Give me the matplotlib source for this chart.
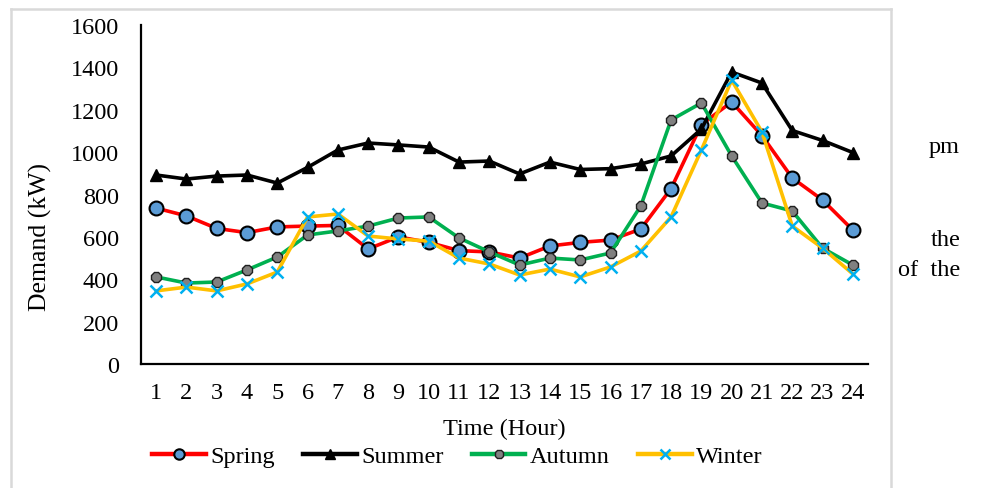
import matplotlib
matplotlib.use("Agg")
import matplotlib.pyplot as plt
from matplotlib.lines import Line2D

plt.rcParams['font.family'] = ['Liberation Serif', 'DejaVu Serif']

hours = list(range(1, 25))
spring = [736, 699, 640, 620, 647, 651, 654, 543, 600, 574, 535, 529, 500, 557, 574, 585,
          637, 828, 1130, 1237, 1078, 878, 774, 632]
summer = [892, 873, 887, 892, 854, 928, 1010, 1043, 1034, 1024, 953, 958, 897, 953, 918, 922,
          944, 982, 1109, 1378, 1326, 1102, 1055, 998]
autumn = [411, 382, 387, 444, 505, 609, 628, 651, 689, 694, 595, 529, 467, 500, 491, 524,
          746, 1152, 1232, 982, 760, 722, 547, 467]
winter = [345, 363, 345, 378, 434, 694, 708, 604, 590, 580, 500, 472, 420, 448, 411, 458,
          533, 694, 1010, 1340, 1095, 651, 547, 425]

fs = 17.5
fig = plt.figure(figsize=(9.97, 4.89), dpi=100)
ax = fig.add_axes([0.1414, 0.2536, 0.7292, 0.6932])

lw = 2.6
ax.plot(hours, spring, color='#FF0000', lw=lw, marker='o', ms=10,
        mfc='#5B9BD5', mec='black', mew=1.5, label='Spring', zorder=3)
ax.plot(hours, summer, color='black', lw=lw, marker='^', ms=9,
        mfc='black', mec='black', label='Summer', zorder=3)
ax.plot(hours, autumn, color='#00B050', lw=lw, marker='8', ms=8,
        mfc='#808080', mec='#202020', mew=1.0, label='Autumn', zorder=3)
ax.plot(hours, winter, color='#FFC000', lw=lw, marker='x', ms=9,
        mec='#00B0F0', mew=1.8, label='Winter', zorder=3)

ax.set_xlim(0.5, 24.5)
ax.set_ylim(0, 1600)
ax.set_xticks(hours)
ax.set_yticks(range(0, 1601, 200))
ax.tick_params(axis='both', length=0, labelsize=fs)
ax.tick_params(axis='y', pad=16)
ax.tick_params(axis='x', pad=13)
for s in ['top', 'right']:
    ax.spines[s].set_visible(False)
for s in ['left', 'bottom']:
    ax.spines[s].set_linewidth(1.6)

ax.set_ylabel('Demand (kW)', fontsize=18.5)
ax.set_xlabel('Time (Hour)', fontsize=fs)
ax.yaxis.set_label_coords(-0.123, 0.378)
ax.xaxis.set_label_coords(0.5, -0.158)

leg = fig.legend(loc='center', bbox_to_anchor=(0.459, 0.065), ncol=4, frameon=False,
                 fontsize=fs, handlelength=2.2, handletextpad=0.2, columnspacing=1.15,
                 markerscale=0.75)
for h in leg.legend_handles:
    h.set_linewidth(3.2)

# light grey frame around the chart
fc = '#D9D9D9'
fig.add_artist(Line2D([11/997, 891/997], [1-10/489, 1-10/489], color=fc, lw=1.8))
fig.add_artist(Line2D([11/997, 11/997], [1-10/489, 0], color=fc, lw=1.8))
fig.add_artist(Line2D([891/997, 891/997], [1-10/489, 0], color=fc, lw=1.8))

# fragments of the surrounding page text
fig.text(0.963, 1-147/489, 'pm', ha='right', va='center', fontsize=fs)
fig.text(0.963, 1-240/489, 'the', ha='right', va='center', fontsize=fs)
fig.text(0.963, 1-271/489, 'of  the', ha='right', va='center', fontsize=fs)

fig.savefig('out.png', dpi=100)
